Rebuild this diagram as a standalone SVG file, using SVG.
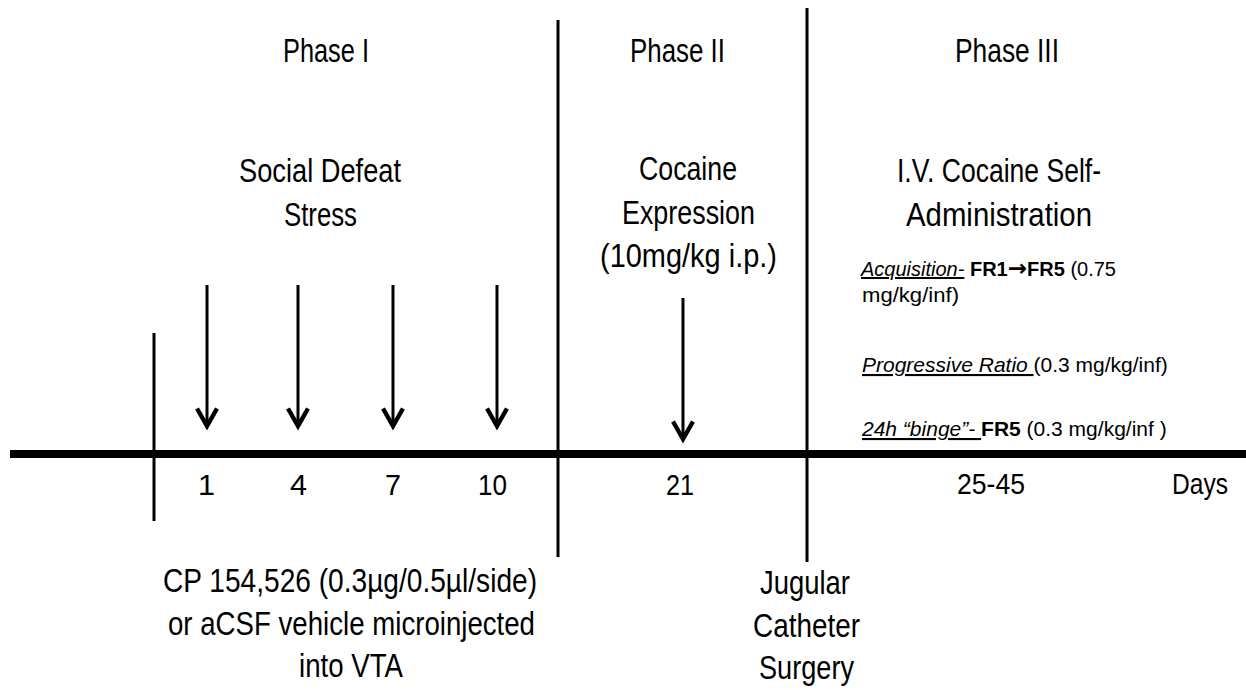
<svg xmlns="http://www.w3.org/2000/svg" width="1246" height="690" viewBox="0 0 1246 690">
<style>
text{font-family:"Liberation Sans",Arial,sans-serif;fill:#000}
.big{font-size:33px}
.num{font-size:30px}
.sm{font-size:21px}
.u{text-decoration:underline;font-style:italic}
.b{font-weight:bold}
.arr{font-family:"DejaVu Sans",sans-serif;font-weight:bold;font-size:23px}
.ln{stroke:#000;stroke-width:3;fill:none}
</style>
<defs>
<marker id="ah" markerUnits="userSpaceOnUse" markerWidth="30" markerHeight="30" viewBox="-20 -12 24 24" refX="0" refY="0" orient="auto">
<path d="M-14,-8 L0,0 L-14,8" fill="none" stroke="#000" stroke-width="3.5" stroke-linejoin="miter"/>
</marker>
</defs>
<rect width="1246" height="690" fill="#fff"/>
<g id="connectors">
<line x1="10" y1="454" x2="1246" y2="454" stroke="#000" stroke-width="8"/>
<line class="ln" x1="154" y1="333" x2="154" y2="521"/>
<line class="ln" x1="558" y1="20" x2="558" y2="557"/>
<line class="ln" x1="807" y1="8" x2="807" y2="562"/>
<line class="ln" x1="207" y1="285" x2="207" y2="426" marker-end="url(#ah)"/>
<line class="ln" x1="298" y1="285" x2="298" y2="426" marker-end="url(#ah)"/>
<line class="ln" x1="393" y1="285" x2="393" y2="426" marker-end="url(#ah)"/>
<line class="ln" x1="497" y1="285" x2="497" y2="426" marker-end="url(#ah)"/>
<line class="ln" x1="683" y1="298" x2="683" y2="439" marker-end="url(#ah)"/>
</g>
<g id="phase1">
<text class="big" x="283" y="62" textLength="86" lengthAdjust="spacingAndGlyphs">Phase I</text>
<text class="big" x="239" y="182" textLength="162" lengthAdjust="spacingAndGlyphs">Social Defeat</text>
<text class="big" x="284" y="226" textLength="73" lengthAdjust="spacingAndGlyphs">Stress</text>
</g>
<g id="phase2">
<text class="big" x="630" y="62" textLength="95" lengthAdjust="spacingAndGlyphs">Phase II</text>
<text class="big" x="639" y="180" textLength="98" lengthAdjust="spacingAndGlyphs">Cocaine</text>
<text class="big" x="622" y="224" textLength="133" lengthAdjust="spacingAndGlyphs">Expression</text>
<text class="big" x="600" y="267" textLength="177" lengthAdjust="spacingAndGlyphs">(10mg/kg i.p.)</text>
</g>
<g id="phase3">
<text class="big" x="955" y="62" textLength="104" lengthAdjust="spacingAndGlyphs">Phase III</text>
<text class="big" x="897" y="182" textLength="204" lengthAdjust="spacingAndGlyphs">I.V. Cocaine Self-</text>
<text class="big" x="906" y="226" textLength="186" lengthAdjust="spacingAndGlyphs">Administration</text>
<text class="sm" x="861" y="276" style="font-size:20px"><tspan class="u">Acquisition-</tspan> <tspan class="b">FR1</tspan><tspan class="arr">→</tspan><tspan class="b">FR5</tspan> (0.75</text>
<text class="sm" x="862" y="302" textLength="97" lengthAdjust="spacingAndGlyphs">mg/kg/inf)</text>
<text class="sm" x="862" y="372"><tspan class="u">Progressive Ratio </tspan>(0.3 mg/kg/inf)</text>
<text class="sm" x="862" y="436"><tspan class="u">24h “binge”- </tspan><tspan class="b">FR5</tspan> (0.3 mg/kg/inf )</text>
</g>
<g id="days">
<text class="num" x="198" y="495" textLength="17" lengthAdjust="spacingAndGlyphs">1</text>
<text class="num" x="290" y="495" textLength="17" lengthAdjust="spacingAndGlyphs">4</text>
<text class="num" x="385" y="495" textLength="16" lengthAdjust="spacingAndGlyphs">7</text>
<text class="num" x="478" y="495" textLength="29" lengthAdjust="spacingAndGlyphs">10</text>
<text class="num" x="666" y="495" textLength="28" lengthAdjust="spacingAndGlyphs">21</text>
<text class="num" x="957" y="494" textLength="68" lengthAdjust="spacingAndGlyphs">25-45</text>
<text class="num" x="1172" y="494" textLength="56" lengthAdjust="spacingAndGlyphs">Days</text>
</g>
<g id="microinjection">
<text class="big" x="163" y="592" textLength="374" lengthAdjust="spacingAndGlyphs">CP 154,526 (0.3µg/0.5µl/side)</text>
<text class="big" x="168" y="635" textLength="367" lengthAdjust="spacingAndGlyphs">or aCSF vehicle microinjected</text>
<text class="big" x="299" y="677" textLength="104" lengthAdjust="spacingAndGlyphs">into VTA</text>
</g>
<g id="surgery">
<text class="big" x="760" y="594" textLength="90" lengthAdjust="spacingAndGlyphs">Jugular</text>
<text class="big" x="753" y="637" textLength="107" lengthAdjust="spacingAndGlyphs">Catheter</text>
<text class="big" x="759" y="679" textLength="95" lengthAdjust="spacingAndGlyphs">Surgery</text>
</g>
</svg>
